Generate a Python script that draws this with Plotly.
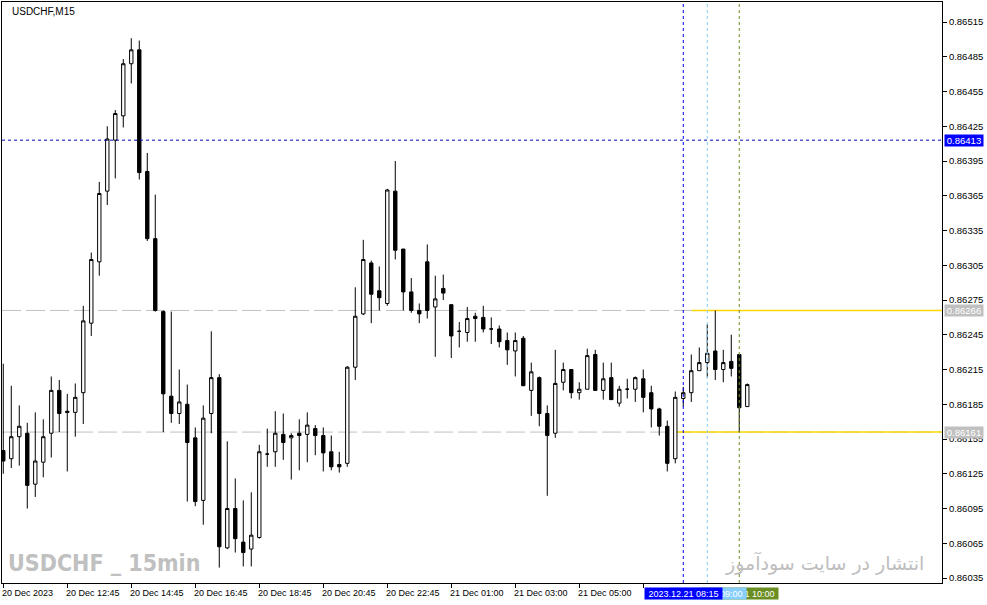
import plotly.graph_objects as go

SYMBOL_TITLE = "USDCHF,M15"

# one entry per 15-minute bar, left to right (20 Dec 10:45 ... 21 Dec 10:15)
bar_idx = list(range(94))

opens = [0.86145, 0.86138, 0.86157, 0.86160, 0.86116, 0.86135, 0.86160, 0.86197, 0.86179, 0.86178,
         0.86195, 0.86255, 0.86308, 0.86369, 0.86413, 0.86434, 0.86479, 0.86491, 0.86386, 0.86328,
         0.86265, 0.86192, 0.86177, 0.86185, 0.86156, 0.86102, 0.86177, 0.86208, 0.86061, 0.86095,
         0.86066, 0.86060, 0.86070, 0.86142, 0.86144, 0.86159, 0.86156, 0.86160, 0.86159, 0.86164,
         0.86158, 0.86144, 0.86133, 0.86134, 0.86217, 0.86263, 0.86307, 0.86283, 0.86272, 0.86369,
         0.86319, 0.86282, 0.86266, 0.86308, 0.86269, 0.86285, 0.86271, 0.86248, 0.86247, 0.86261,
         0.86260, 0.86250, 0.86250, 0.86240, 0.86231, 0.86242, 0.86197, 0.86208, 0.86177, 0.86160,
         0.86204, 0.86215, 0.86195, 0.86198, 0.86228, 0.86197, 0.86208, 0.86186, 0.86198, 0.86198,
         0.86207, 0.86195, 0.86181, 0.86166, 0.86138, 0.86190, 0.86195, 0.86214, 0.86221, 0.86231,
         0.86215, 0.86222, 0.86228, 0.86183]
highs = [0.86220, 0.86201, 0.86184, 0.86169, 0.86178, 0.86172, 0.86209, 0.86206, 0.86194, 0.86203,
         0.86270, 0.86316, 0.86377, 0.86425, 0.86439, 0.86483, 0.86501, 0.86499, 0.86402, 0.86366,
         0.86266, 0.86265, 0.86215, 0.86202, 0.86165, 0.86184, 0.86248, 0.86211, 0.86153, 0.86121,
         0.86102, 0.86109, 0.86150, 0.86164, 0.86179, 0.86177, 0.86160, 0.86172, 0.86178, 0.86167,
         0.86165, 0.86158, 0.86144, 0.86218, 0.86286, 0.86327, 0.86309, 0.86304, 0.86371, 0.86395,
         0.86319, 0.86294, 0.86272, 0.86323, 0.86296, 0.86297, 0.86271, 0.86256, 0.86269, 0.86264,
         0.86270, 0.86260, 0.86253, 0.86247, 0.86247, 0.86244, 0.86221, 0.86209, 0.86184, 0.86232,
         0.86221, 0.86215, 0.86204, 0.86233, 0.86232, 0.86221, 0.86221, 0.86201, 0.86207, 0.86209,
         0.86215, 0.86201, 0.86182, 0.86171, 0.86196, 0.86200, 0.86228, 0.86234, 0.86254, 0.86266,
         0.86232, 0.86245, 0.86228, 0.86203]
lows = [0.86125, 0.86130, 0.86132, 0.86095, 0.86105, 0.86122, 0.86139, 0.86161, 0.86127, 0.86157,
        0.86168, 0.86244, 0.86296, 0.86357, 0.86380, 0.86424, 0.86462, 0.86379, 0.86326, 0.86265,
        0.86161, 0.86169, 0.86168, 0.86101, 0.86097, 0.86081, 0.86160, 0.86044, 0.86060, 0.86057,
        0.86045, 0.86045, 0.86069, 0.86131, 0.86131, 0.86137, 0.86120, 0.86128, 0.86135, 0.86141,
        0.86127, 0.86128, 0.86126, 0.86131, 0.86206, 0.86262, 0.86255, 0.86266, 0.86270, 0.86310,
        0.86266, 0.86264, 0.86255, 0.86259, 0.86226, 0.86275, 0.86225, 0.86234, 0.86239, 0.86239,
        0.86247, 0.86237, 0.86234, 0.86219, 0.86209, 0.86201, 0.86175, 0.86166, 0.86106, 0.86156,
        0.86197, 0.86190, 0.86189, 0.86198, 0.86197, 0.86189, 0.86189, 0.86183, 0.86190, 0.86187,
        0.86178, 0.86165, 0.86158, 0.86127, 0.86134, 0.86183, 0.86187, 0.86214, 0.86208, 0.86206,
        0.86204, 0.86209, 0.86161, 0.86183]
closes = [0.86136, 0.86157, 0.86166, 0.86115, 0.86136, 0.86157, 0.86197, 0.86177, 0.86178, 0.86191,
          0.86257, 0.86310, 0.86367, 0.86414, 0.86436, 0.86479, 0.86491, 0.86385, 0.86328, 0.86266,
          0.86194, 0.86177, 0.86187, 0.86152, 0.86101, 0.86173, 0.86208, 0.86062, 0.86095, 0.86069,
          0.86057, 0.86072, 0.86144, 0.86142, 0.86160, 0.86152, 0.86158, 0.86158, 0.86167, 0.86158,
          0.86143, 0.86131, 0.86131, 0.86217, 0.86261, 0.86310, 0.86280, 0.86277, 0.86370, 0.86318,
          0.86282, 0.86266, 0.86263, 0.86266, 0.86276, 0.86281, 0.86244, 0.86248, 0.86259, 0.86259,
          0.86250, 0.86250, 0.86239, 0.86232, 0.86240, 0.86201, 0.86213, 0.86177, 0.86158, 0.86203,
          0.86215, 0.86195, 0.86198, 0.86227, 0.86197, 0.86207, 0.86189, 0.86198, 0.86198, 0.86208,
          0.86191, 0.86181, 0.86166, 0.86134, 0.86191, 0.86195, 0.86214, 0.86221, 0.86229, 0.86215,
          0.86221, 0.86216, 0.86182, 0.86202]

# time axis labels (bar index -> text)
tick_pos = [0, 8, 16, 24, 32, 40, 48, 56, 64, 72, 80]
tick_text = ["20 Dec 2023", "20 Dec 12:45", "20 Dec 14:45", "20 Dec 16:45", "20 Dec 18:45",
             "20 Dec 20:45", "20 Dec 22:45", "21 Dec 01:00", "21 Dec 03:00", "21 Dec 05:00", ""]

price_ticks = [0.86035, 0.86065, 0.86095, 0.86125, 0.86155, 0.86185, 0.86215, 0.86245, 0.86275,
               0.86305, 0.86335, 0.86365, 0.86395, 0.86425, 0.86455, 0.86485, 0.86515]

# horizontal levels
crosshair_level = 0.86413
level_high = 0.86266
level_low = 0.86161
yellow_start_high = 86.05
yellow_start_low = 84.05

# vertical markers: bar index, label, colour (drawn bottom to top)
vlines = [(92, "2023.12.21 10:00", "#6B8E23"),
          (88, "2023.12.21 09:00", "#87CEFA"),
          (85, "2023.12.21 08:15", "#0000FF")]

X_RANGE = [-0.16, 117.34]
Y_RANGE = [0.860307, 0.865323]
FONT = "Liberation Sans, Arial, sans-serif"

fig = go.Figure()
fig.add_trace(go.Candlestick(
    x=bar_idx, open=opens, high=highs, low=lows, close=closes,
    increasing=dict(line=dict(color="black", width=1), fillcolor="white"),
    decreasing=dict(line=dict(color="black", width=1), fillcolor="black"),
    whiskerwidth=0, hoverinfo="skip", showlegend=False))

shapes = []
for lvl in (level_high, level_low):
    shapes.append(dict(type="line", xref="paper", x0=0, x1=1, yref="y", y0=lvl, y1=lvl,
                       line=dict(color="#C0C0C0", width=1, dash="19px,5px"), layer="below"))
shapes.append(dict(type="line", xref="x", x0=yellow_start_high, x1=X_RANGE[1], yref="y",
                   y0=level_high, y1=level_high, line=dict(color="#FFD700", width=1.5), layer="below"))
shapes.append(dict(type="line", xref="x", x0=yellow_start_low, x1=X_RANGE[1], yref="y",
                   y0=level_low, y1=level_low, line=dict(color="#FFD700", width=1.5), layer="below"))
shapes.append(dict(type="line", xref="paper", x0=0, x1=1, yref="y", y0=crosshair_level,
                   y1=crosshair_level, line=dict(color="#0000B4", width=1, dash="3px,3px")))
for pos, _, col in vlines:
    shapes.append(dict(type="line", xref="x", x0=pos, x1=pos, yref="paper", y0=0, y1=1,
                       line=dict(color=col, width=1, dash="3px,3px")))

ann = []
for pos, txt in zip(tick_pos, tick_text):
    if txt:
        ann.append(dict(x=pos, xref="x", y=0, yref="paper", yanchor="top", yshift=-3,
                        xanchor="left", xshift=-3, text=txt, showarrow=False,
                        font=dict(family=FONT, size=9, color="black")))
for pos, txt, col in vlines:
    ann.append(dict(x=pos, xref="x", y=0, yref="paper", yanchor="top", yshift=-4,
                    xanchor="center", text=txt, showarrow=False, bgcolor=col,
                    width=77, height=11, borderpad=0,
                    font=dict(family=FONT, size=9, color="white")))
for lvl, col in ((crosshair_level, "#0000FF"), (level_high, "#C0C0C0"), (level_low, "#C0C0C0")):
    ann.append(dict(x=1, xref="paper", xanchor="left", xshift=2, y=lvl, yref="y",
                    yanchor="middle", text=f"{lvl:.5f}", showarrow=False, bgcolor=col,
                    width=38, height=11, borderpad=0,
                    font=dict(family=FONT, size=9.5, color="white")))
ann.append(dict(x=0.006, xref="paper", xanchor="left", xshift=2, y=0.9845, yref="paper",
                yanchor="middle", text=SYMBOL_TITLE, showarrow=False,
                font=dict(family=FONT, size=10, color="black")))
ann.append(dict(x=0.0064, xref="paper", xanchor="left", xshift=-2, y=0.0344, yref="paper",
                yanchor="middle", text="<b>USDCHF _ 15min</b>", showarrow=False,
                font=dict(family="DejaVu Sans Condensed, sans-serif", size=23, color="#C0C0C0")))
ann.append(dict(x=0.983, xref="paper", xanchor="right", y=0.0344, yref="paper", yanchor="middle",
                text="انتشار در سایت سودآموز", showarrow=False,
                font=dict(family="DejaVu Sans, sans-serif", size=19, color="#BEBEBE")))

fig.update_layout(
    template="none", width=987, height=605,
    margin=dict(l=2, r=45, t=2, b=22),
    paper_bgcolor="white", plot_bgcolor="white",
    showlegend=False, boxgap=0.4,
    shapes=shapes, annotations=ann,
    xaxis=dict(range=X_RANGE, showgrid=False, zeroline=False, showline=True, mirror=True,
               linecolor="black", linewidth=1, ticks="outside", ticklen=4, tickcolor="black",
               tickvals=tick_pos, showticklabels=False, rangeslider=dict(visible=False),
               automargin=False, fixedrange=True),
    yaxis=dict(range=Y_RANGE, side="right", showgrid=False, zeroline=False, showline=True,
               mirror=True, linecolor="black", linewidth=1, ticks="outside", ticklen=4,
               tickcolor="black", tickvals=price_ticks, tickformat=".5f",
               tickfont=dict(family=FONT, size=9.5, color="black"),
               automargin=False, fixedrange=True),
)

# the page body has a default 8px margin; drop it so the chart sits at the window's corner
fig.write_html("out.html", config={"displayModeBar": False},
               post_script="document.body.style.margin='0';document.body.style.overflow='hidden';")
